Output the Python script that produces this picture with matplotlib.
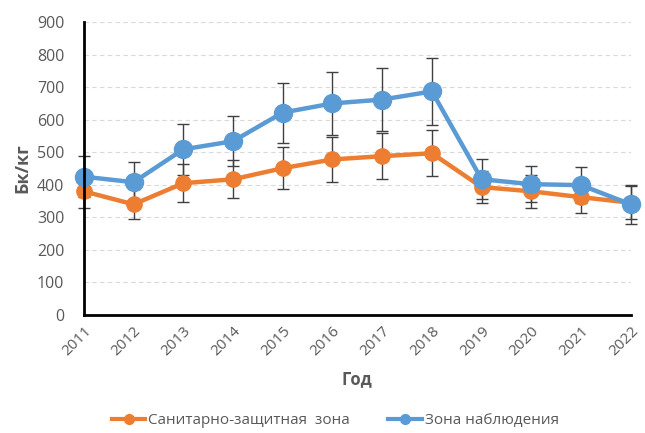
import numpy as np
import matplotlib.pyplot as plt

plt.rcParams['font.family'] = ['Open Sans', 'DejaVu Sans']

years = ['2011', '2012', '2013', '2014', '2015', '2016',
         '2017', '2018', '2019', '2020', '2021', '2022']
szz = [380, 340, 405, 417, 451, 478, 488, 497, 393, 380, 362, 345]
szz_err = [52, 46, 58, 58, 64, 70, 70, 70, 49, 51, 49, 50]
zn = [425, 408, 509, 534, 622, 650, 662, 687, 417, 402, 399, 340]
zn_err = [63, 62, 78, 77, 92, 96, 96, 102, 62, 56, 56, 60]

orange = '#ED7D31'
blue = '#5B9BD5'
grey = '#595959'

fig = plt.figure(figsize=(6.45, 4.33), dpi=100)
ax = fig.add_axes([0.130, 0.2725, 0.848, 0.6765])
x = np.arange(len(years))

ax.errorbar(x, szz, yerr=szz_err, fmt='none', ecolor='#404040',
            elinewidth=1, capsize=4, capthick=1, zorder=2, clip_on=False)
ax.errorbar(x, zn, yerr=zn_err, fmt='none', ecolor='#404040',
            elinewidth=1, capsize=4, capthick=1, zorder=2, clip_on=False)
ax.plot(x, szz, color=orange, lw=3.2, marker='o', ms=11,
        label='Санитарно-защитная  зона', zorder=3, clip_on=False)
ax.plot(x, zn, color=blue, lw=3.2, marker='o', ms=13,
        label='Зона наблюдения', zorder=4, clip_on=False)

ax.set_xlim(0, len(years) - 1)
ax.set_ylim(0, 900)
ax.set_yticks(range(0, 901, 100))
ax.set_xticks(x)
ax.set_xticklabels(years, rotation=45, ha='right', rotation_mode='anchor')
ax.tick_params(length=0, labelsize=11.5, colors=grey, pad=14)
ax.tick_params(axis='x', pad=6, labelsize=11)

ax.grid(axis='y', color='#d9d9d9', ls=(0, (4, 3)), lw=0.8)
ax.set_axisbelow(True)
for s in ['top', 'right']:
    ax.spines[s].set_visible(False)
for s in ['left', 'bottom']:
    ax.spines[s].set_color('black')
    ax.spines[s].set_linewidth(2)
    ax.spines[s].set_zorder(5)

ax.set_ylabel('Бк/кг', fontsize=13, fontweight='bold', color=grey, labelpad=4)
ax.set_xlabel('Год', fontsize=12, fontweight='bold', color=grey, labelpad=8)

handles, labels = ax.get_legend_handles_labels()
leg_handles = [plt.Line2D([], [], color=orange, lw=3, marker='o', ms=7),
               plt.Line2D([], [], color=blue, lw=3, marker='o', ms=7)]
fig.legend(leg_handles, labels, loc='center', bbox_to_anchor=(0.52, 0.028),
           ncol=2, frameon=False, fontsize=11, labelcolor=grey,
           handlelength=2.2, handletextpad=0.2, columnspacing=2.5)

fig.savefig('out.png', dpi=100)
